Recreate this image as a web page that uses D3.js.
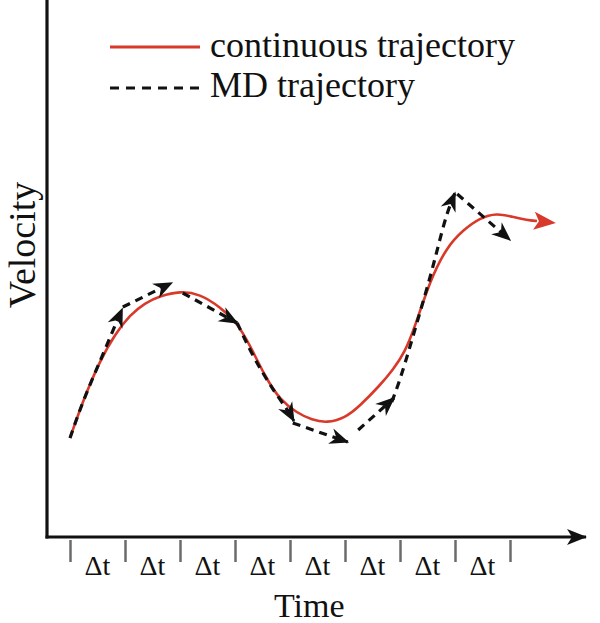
<!DOCTYPE html>
<html><head><meta charset="utf-8">
<script src="https://cdn.jsdelivr.net/npm/d3@7"></script>
<style>html,body{margin:0;padding:0;background:#fff;}svg{display:block;}</style>
</head><body>
<script>
// time in units of Δt, velocity in arbitrary units
const stepTicks = [0,1,2,3,4,5,6,7,8];
const stepLabels = ["Δt","Δt","Δt","Δt","Δt","Δt","Δt","Δt"];
const contT = [0,0.24,0.55,0.82,1.09,1.36,1.64,2.0,2.36,2.73,3.04,3.27,3.55,3.82,4.13,4.4,4.67,5.0,5.27,5.64,5.87,6.09,6.27,6.55,6.85,7.15,7.45,7.76,8.05,8.31,8.49];
const contV = [99,137,177,203,222,234,241,246,243,230,214,192,160,137,124,117,114,119,131,152,167,185,210,257,290,307,319,324,320,317,316];
const mdT = [
  [0,0.24,0.58,0.76,0.95],
  [0.96,1.85],
  [2.05,3.04],
  [3.04,3.33,3.69,3.96,4.07],
  [4.05,5.05],
  [5.24,5.89],
  [5.85,6.0,6.18,6.36,6.55,6.69,6.85,7.0],
  [7.04,8.0]
];
const mdV = [
  [99,137,180,204,228],
  [230,254],
  [244,214],
  [214,180,147,127,116],
  [114,95],
  [107,139],
  [135,157,190,224,260,290,324,344],
  [343,297]
];
const legendLabels = ["continuous trajectory","MD trajectory"];
const xTitle = "Time", yTitle = "Velocity";

const W=600,H=623;
const svg = d3.select("body").append("svg").attr("width",W).attr("height",H);
const x = d3.scaleLinear().domain([0,8]).range([70,510]);
const y = d3.scaleLinear().domain([0,537]).range([537,0]);
const red = "#d9392a";
const font = "'Liberation Serif','Times New Roman',serif";

const defs = svg.append("defs");
defs.append("marker").attr("id","blk").attr("markerUnits","userSpaceOnUse")
  .attr("viewBox","-22 -11 24 22").attr("refX",0).attr("refY",0)
  .attr("markerWidth",24).attr("markerHeight",22).attr("orient","auto")
  .append("path").attr("d","M1.5,0 L-18,-8 L-12,0 L-18,8 Z").attr("fill","#111");
defs.append("marker").attr("id","redm").attr("markerUnits","userSpaceOnUse")
  .attr("viewBox","-4 -10 28 20").attr("refX",0).attr("refY",0)
  .attr("markerWidth",28).attr("markerHeight",20).attr("orient","auto")
  .append("path").attr("d","M19,0 L-3,-9 L2,0 L-3,9 Z").attr("fill",red);
defs.append("marker").attr("id","axm").attr("markerUnits","userSpaceOnUse")
  .attr("viewBox","-22 -10 24 20").attr("refX",0).attr("refY",0)
  .attr("markerWidth",24).attr("markerHeight",20).attr("orient","auto")
  .append("path").attr("d","M1,0 L-19,-8 L-14,0 L-19,8 Z").attr("fill","#111");

// axes
const xMin = x.invert(47), xMax = x.invert(586);
svg.append("line").attr("x1",x(xMin)).attr("x2",x(xMin)).attr("y1",y(537)).attr("y2",y(0)+1.5)
  .attr("stroke","#111").attr("stroke-width",3.2);
svg.append("line").attr("x1",x(xMin)-1.5).attr("x2",x(xMax)).attr("y1",y(0)).attr("y2",y(0))
  .attr("stroke","#111").attr("stroke-width",3.2).attr("marker-end","url(#axm)");

const ax = svg.append("g").attr("transform",`translate(0,${y(0)+3})`)
  .call(d3.axisBottom(x).tickValues(stepTicks).tickSize(22).tickFormat(""));
ax.select(".domain").remove();
ax.selectAll(".tick line").attr("stroke","#6b6b6b").attr("stroke-width",2.5);

svg.append("g").selectAll("text").data(stepLabels).join("text")
  .attr("x",(d,i)=>x(i+0.5)).attr("y",y(0)+38).attr("text-anchor","middle")
  .attr("font-family",font).attr("font-size",28).attr("fill","#111").text(d=>d);

svg.append("text").attr("x",x(4.35)).attr("y",617).attr("text-anchor","middle")
  .attr("font-family",font).attr("font-size",34).attr("fill","#111").text(xTitle);
svg.append("text").attr("transform",`translate(35,${y(292)}) rotate(-90)`).attr("text-anchor","middle")
  .attr("font-family",font).attr("font-size",38).attr("fill","#111").text(yTitle);

// continuous curve
const contData = contT.map((t,i)=>[t,contV[i]]);
const line = d3.line().x(d=>x(d[0])).y(d=>y(d[1])).curve(d3.curveBasis);
svg.append("path").attr("d",line(contData)).attr("fill","none").attr("stroke",red)
  .attr("stroke-width",2.6).attr("marker-end","url(#redm)");

// MD segments
const mdLine = d3.line().x(d=>x(d[0])).y(d=>y(d[1])).curve(d3.curveBasis);
mdT.forEach((ts,k)=>{
  const pts = ts.map((t,i)=>[t,mdV[k][i]]);
  svg.append("path").attr("d",mdLine(pts)).attr("fill","none").attr("stroke","#111")
    .attr("stroke-width",3.2).attr("stroke-dasharray","8,6").attr("marker-end","url(#blk)");
});

// legend
const lg = svg.append("g");
lg.append("line").attr("x1",110).attr("x2",200).attr("y1",47).attr("y2",47).attr("stroke",red).attr("stroke-width",3);
lg.append("line").attr("x1",110).attr("x2",202).attr("y1",88).attr("y2",88).attr("stroke","#111").attr("stroke-width",3).attr("stroke-dasharray","9,7");
lg.selectAll("text").data(legendLabels).join("text")
  .attr("x",210).attr("y",(d,i)=>57+i*40).attr("font-family",font).attr("font-size",36).attr("fill","#111").text(d=>d);
</script>
</body></html>
